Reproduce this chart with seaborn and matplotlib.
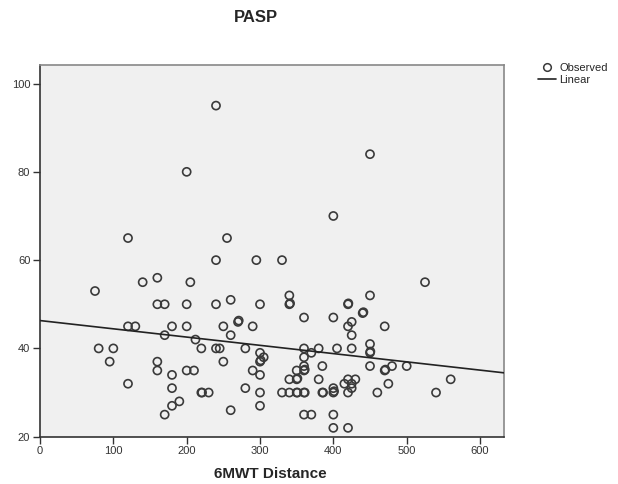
import matplotlib
matplotlib.use("Agg")
import matplotlib.pyplot as plt
import seaborn as sns
import pandas as pd
from matplotlib.lines import Line2D

# Data
distance = [75, 80, 95, 100, 120, 120, 120, 130, 140, 160, 160, 160, 160, 170, 170, 170,
            180, 180, 180, 180, 190, 200, 200, 200, 200, 205, 210, 212, 220, 220, 221, 230,
            240, 240, 240, 240, 245, 250, 250, 255, 260, 260, 260, 270, 271, 280, 280, 290,
            290, 295, 300, 300, 300, 301, 300, 300, 300, 305, 330, 330, 340, 340, 341, 340,
            340, 350, 350, 351, 350, 351, 360, 360, 360, 360, 360, 361, 360, 361, 360, 370,
            370, 380, 380, 385, 385, 386, 400, 400, 400, 400, 401, 400, 400, 405, 415, 420,
            420.5, 420, 420, 420, 420, 425, 425, 425, 425, 425, 430, 440, 441, 450, 450, 450,
            450, 450.5, 450, 460, 470, 470, 471, 475, 480, 500, 525, 540, 560]
pasp = [53, 40, 37, 40, 65, 45, 32, 45, 55, 56, 50, 37, 35, 50, 43, 25,
        45, 34, 31, 27, 28, 80, 50, 45, 35, 55, 35, 42, 40, 30, 30, 30,
        95, 60, 50, 40, 40, 45, 37, 65, 51, 43, 26, 46, 46.3, 40, 31, 45,
        35, 60, 50, 39, 37, 37.3, 34, 30, 27, 38, 60, 30, 52, 50, 50.2, 33,
        30, 35, 33, 33.2, 30, 30, 47, 40, 38, 36, 35, 35.2, 30, 30, 25, 39,
        25, 40, 33, 36, 30, 30, 70, 47, 31, 30, 30.3, 25, 22, 40, 32, 50,
        50.2, 45, 33, 30, 22, 46, 43, 40, 32, 31, 33, 48, 48.2, 84, 52, 41,
        39, 39.3, 36, 30, 45, 35, 35.2, 32, 36, 36, 55, 30, 33]

x_ticks = [0, 100, 200, 300, 400, 500, 600]
y_ticks = [20, 40, 60, 80, 100]

df = pd.DataFrame({"6MWT Distance": distance, "PASP": pasp})

sns.set_style("white")
plt.rcParams["font.family"] = ["Liberation Sans", "DejaVu Sans"]

W, H = 618, 484
fig = plt.figure(figsize=(W / 100, H / 100), dpi=100)
ax = fig.add_axes([40 / W, 1 - 436.7 / H, (504 - 40) / W, (436.7 - 65) / H])
ax.set_facecolor("#f0f0f0")
ax.set_xlim(0, 632.7)
ax.set_ylim(20, 104.2)

sns.scatterplot(data=df, x="6MWT Distance", y="PASP", ax=ax, marker="o",
                s=34, facecolor="none", edgecolor="#3a3a3a", linewidth=1.2, zorder=3)
sns.regplot(data=df, x="6MWT Distance", y="PASP", ax=ax, scatter=False, ci=None,
            truncate=False, line_kws={"color": "#222222", "linewidth": 1.2, "zorder": 4})

ax.set_xticks(x_ticks)
ax.set_yticks(y_ticks)
ax.tick_params(axis="both", direction="out", length=5, width=1.0, color="#333333",
               labelsize=8, labelcolor="#333333", pad=2)
ax.tick_params(axis="x", bottom=True)
ax.tick_params(axis="y", left=True)
ax.set_xlabel("")
ax.set_ylabel("")
for side in ["left", "bottom"]:
    ax.spines[side].set_color("#333333")
    ax.spines[side].set_linewidth(1.2)
for side in ["top", "right"]:
    ax.spines[side].set_visible(True)
    ax.spines[side].set_color("#888888")
    ax.spines[side].set_linewidth(1.2)

fig.text(256 / W, 1 - 18 / H, "PASP", ha="center", va="center", fontsize=12, fontweight="bold")
fig.text(270 / W, 1 - 474 / H, "6MWT Distance", ha="center", va="center", fontsize=11,
         fontweight="bold")

handles = [Line2D([], [], marker="o", linestyle="none", markerfacecolor="none",
                  markeredgecolor="#3a3a3a", markersize=5.5, markeredgewidth=1.1),
           Line2D([], [], color="#222222", linewidth=1.2)]
fig.legend(handles, ["Observed", "Linear"], loc="upper left",
           bbox_to_anchor=(538 / W, 1 - 63 / H), frameon=False, fontsize=8,
           handlelength=1.6, handletextpad=0.3, labelspacing=0.2, borderaxespad=0,
           borderpad=0)

fig.savefig("out.png", dpi=100)
